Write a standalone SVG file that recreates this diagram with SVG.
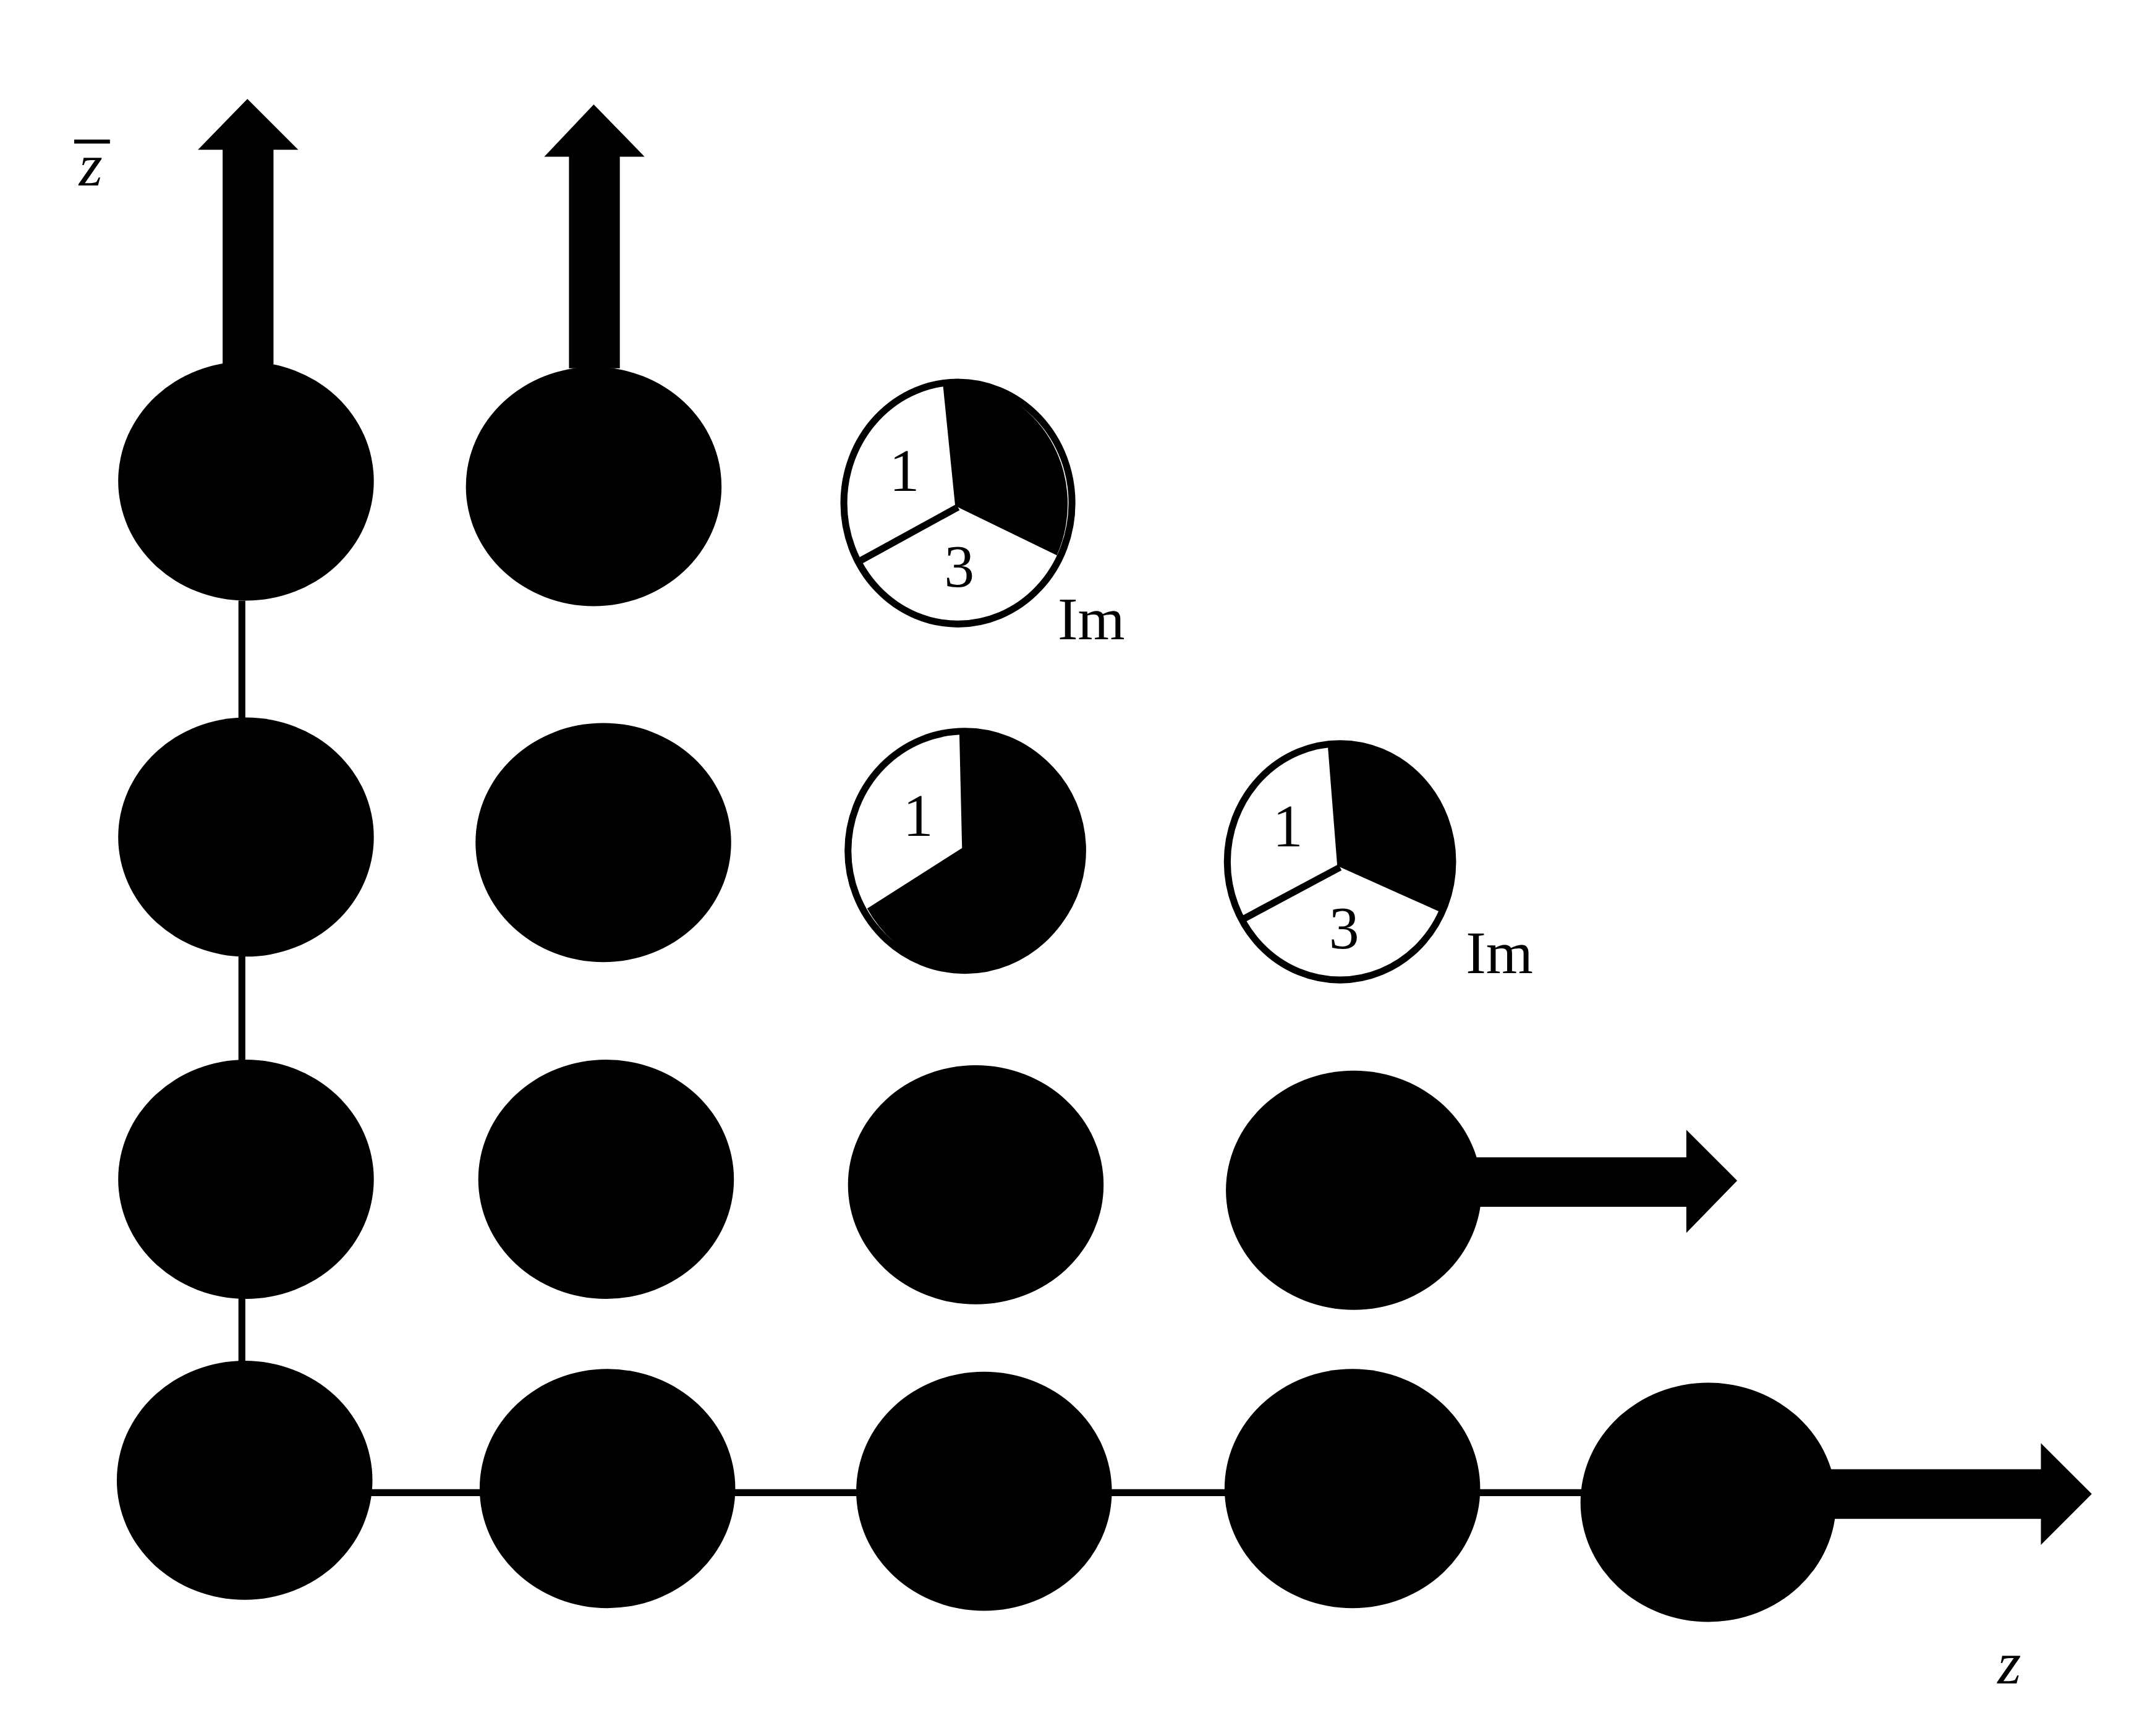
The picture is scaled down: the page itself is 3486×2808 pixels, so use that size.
<svg xmlns="http://www.w3.org/2000/svg" width="3486" height="2808" viewBox="0 0 3486 2808">
<style>
.n{fill:#000}
.ln{stroke:#000;stroke-width:5;fill:none}
.pie{fill:#fff;stroke:#000;stroke-width:5}
.t{font-family:"Liberation Serif",serif;fill:#000}
</style>
<rect width="3486" height="2808" fill="#fff"/>
<g transform="scale(2.2232)">
<g id="connectors">
<line class="ln" x1="176" y1="437" x2="176" y2="995"/>
<line class="ln" x1="265" y1="1086" x2="1155" y2="1086"/>
<path class="n" d="M162,265 V109 H144 L180,72 L217,109 H199 V265 Z"/>
<path class="n" d="M414,268 V114 H396 L432,76 L469,114 H451 V268 Z"/>
<path class="n" d="M1070,842 H1227 V822 L1264,859 L1227,897 V878 H1070 Z"/>
<path class="n" d="M1330,1069 H1485 V1050 L1522,1087 L1485,1124 V1105 H1330 Z"/>
</g>
<g id="nodes">
<ellipse id="n11" class="n" cx="179" cy="350" rx="93" ry="87"/>
<ellipse id="n12" class="n" cx="432" cy="354" rx="93" ry="87"/>
<ellipse id="n21" class="n" cx="179" cy="609" rx="93" ry="87"/>
<ellipse id="n22" class="n" cx="439" cy="613" rx="93" ry="87"/>
<ellipse id="n31" class="n" cx="179" cy="858" rx="93" ry="87"/>
<ellipse id="n32" class="n" cx="441" cy="858" rx="93" ry="87"/>
<ellipse id="n33" class="n" cx="710" cy="862" rx="93" ry="87"/>
<ellipse id="n34" class="n" cx="985" cy="866" rx="93" ry="87"/>
<ellipse id="n41" class="n" cx="178" cy="1077" rx="93" ry="87"/>
<ellipse id="n42" class="n" cx="442" cy="1083" rx="93" ry="87"/>
<ellipse id="n43" class="n" cx="716" cy="1085" rx="93" ry="87"/>
<ellipse id="n44" class="n" cx="984" cy="1083" rx="93" ry="87"/>
<ellipse id="n45" class="n" cx="1243" cy="1093" rx="93" ry="87"/>
</g>
<g id="pie1">
<ellipse class="pie" cx="697" cy="366" rx="83" ry="88"/>
<path class="n" d="M695,368 L686,279 A83,88 0 0 1 769,404 Z"/>
<line class="ln" x1="697" y1="369" x2="624" y2="409"/>
<text class="t" x="658" y="357" font-size="44" text-anchor="middle">1</text>
<text class="t" x="698" y="427" font-size="44" text-anchor="middle">3</text>
<text class="t" x="794" y="465" font-size="44" text-anchor="middle">Im</text>
</g>
<g id="pie2">
<ellipse class="pie" cx="702" cy="619" rx="85" ry="87"/>
<path class="n" d="M700,617 L698,532 A85,87 0 1 1 631,661 Z"/>
<text class="t" x="668" y="608" font-size="44" text-anchor="middle">1</text>
</g>
<g id="pie3">
<ellipse class="pie" cx="975" cy="627" rx="82" ry="86"/>
<path class="n" d="M973,630 L966,541 A82,86 0 0 1 1049,664 Z"/>
<line class="ln" x1="975" y1="631" x2="904" y2="669"/>
<text class="t" x="937" y="616" font-size="44" text-anchor="middle">1</text>
<text class="t" x="978" y="690" font-size="44" text-anchor="middle">3</text>
<text class="t" x="1091" y="708" font-size="44" text-anchor="middle">Im</text>
</g>
<g id="labels">
<text class="t" x="66" y="135" font-size="44" font-style="italic" text-anchor="middle">z</text>
<line class="ln" x1="54" y1="103" x2="80" y2="103" style="stroke-width:3"/>
<text class="t" x="1462" y="1225" font-size="44" font-style="italic" text-anchor="middle">z</text>
</g>
</g>
</svg>
